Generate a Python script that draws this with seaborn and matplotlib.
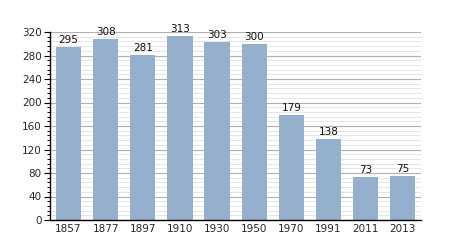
import matplotlib
matplotlib.use("Agg")
import matplotlib.pyplot as plt
import seaborn as sns
import pandas as pd
from matplotlib.ticker import MultipleLocator

years = ["1857", "1877", "1897", "1910", "1930", "1950", "1970", "1991", "2011", "2013"]
population = [295, 308, 281, 313, 303, 300, 179, 138, 73, 75]

df = pd.DataFrame({"year": years, "pop": population})

sns.set_style("white")
plt.rcParams['font.family'] = ['DejaVu Sans']

fig = plt.figure(figsize=(4.5, 2.5), dpi=100)
ax = fig.add_axes([0.111, 0.12, 0.825, 0.752])

ax.set_axisbelow(True)
sns.barplot(data=df, x="year", y="pop", color="#95b0cc", saturation=1, width=0.68,
            linewidth=0, edgecolor="none", ax=ax)

ax.set_ylim(0, 320)
ax.set_xlim(-0.5, len(years) - 0.5)
ax.yaxis.set_major_locator(MultipleLocator(40))
ax.yaxis.set_minor_locator(MultipleLocator(8))
ax.grid(axis="y", which="major", color="#b0b0b0", linewidth=0.8)
ax.grid(axis="y", which="minor", color="#e2e2e2", linewidth=0.6)
ax.grid(axis="x", visible=False)

for s in ["top", "right"]:
    ax.spines[s].set_visible(False)
for s in ["left", "bottom"]:
    ax.spines[s].set_color("black")
    ax.spines[s].set_linewidth(1.0)

ax.tick_params(axis="y", which="major", length=4, width=0.8, color="black", labelsize=7.5, pad=2, left=True)
ax.tick_params(axis="y", which="minor", length=2.5, width=0.7, color="black", left=True)
ax.tick_params(axis="x", length=0, labelsize=7.5, pad=3)
ax.set_xlabel("")
ax.set_ylabel("")

for i, v in enumerate(population):
    ax.text(i, v + 3, str(v), ha="center", va="bottom", fontsize=7.5, color="#111111")

fig.savefig("out.png", dpi=100)
